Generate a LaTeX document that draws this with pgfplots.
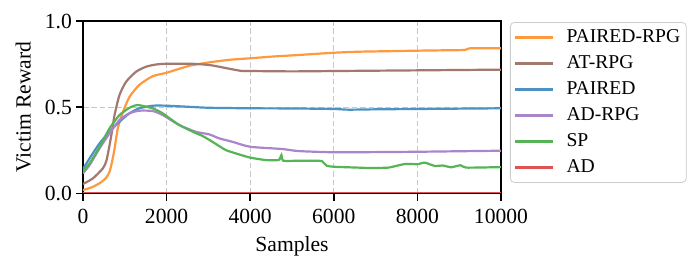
\documentclass[border=0pt]{standalone}
\usepackage{fontspec}
\setmainfont{Liberation Serif}
\usepackage{pgfplots}
\pgfplotsset{compat=1.18}
\definecolor{cOr}{HTML}{FF993E}
\definecolor{cBr}{HTML}{A3786F}
\definecolor{cBl}{HTML}{4C92C3}
\definecolor{cPu}{HTML}{A985CA}
\definecolor{cGr}{HTML}{56B356}
\definecolor{cRd}{HTML}{DE5253}
\definecolor{cGrid}{HTML}{C8C8C8}
\newcommand{\lab}{\fontsize{10.8pt}{13pt}\selectfont}
\newcommand{\leg}{\fontsize{9.8pt}{11pt}\selectfont}
\begin{document}
\begin{tikzpicture}
\path[use as bounding box] (0,0) rectangle (349pt,135pt);
\begin{axis}[
  at={(41.5pt,38.25pt)}, anchor=south west,
  scale only axis, width=209pt, height=86.25pt,
  xmin=0, xmax=10000, ymin=0, ymax=1,
  xtick={0,2000,4000,6000,8000,10000},
  ytick={0,0.5,1},
  /pgf/number format/assume math mode=true,
  xticklabel style={font=\lab, yshift=-1pt, /pgf/number format/set thousands separator={}},
  yticklabel style={font=\lab, xshift=1.5pt, /pgf/number format/fixed, /pgf/number format/fixed zerofill, /pgf/number format/precision=1},
  scaled x ticks=false,
  tick align=outside, major tick length=3.5pt,
  tick style={black, line width=0.8pt},
  xtick pos=bottom, ytick pos=left,
  axis line style={black, line width=0.8pt},
  grid=major,
  major grid style={cGrid, dash pattern=on 2.8pt off 1.4pt, line width=0.6pt},
  xlabel={Samples}, ylabel={Victim Reward},
  xlabel style={font=\lab, at={(axis description cs:0.5,-0.336)}, anchor=base},
  ylabel style={font=\lab, at={(axis description cs:-0.1426,0.5)}, anchor=center},
  every axis plot/.append style={line width=1.1pt, no markers},
  legend cell align=left,
  legend image code/.code={\draw[#1] (0pt,0pt) -- (19pt,0pt);},
  legend style={at={(1.0215,0.9942)}, anchor=north west, draw=black!20, rounded corners=2pt,
    inner sep=2pt, font=\leg, row sep=2pt, /tikz/column sep=5pt,
    nodes={inner sep=1pt, text height=7pt, text depth=2pt}},
]
\addplot[cOr, smooth, tension=0.4] coordinates {
(0,0.02) (200,0.035) (400,0.06) (550,0.09) (636,0.126) (700,0.19) (755,0.26) (835,0.38) (952,0.47) (1112,0.56) (1350,0.63) (1667,0.68) (2000,0.70) (2540,0.74) (3017,0.76) (3500,0.775) (4000,0.784) (4600,0.795) (5159,0.803) (6000,0.816) (6600,0.822) (7300,0.825) (8000,0.828) (8600,0.830) (9128,0.832) (9280,0.842) (10000,0.842)};
\addlegendentry{PAIRED-RPG}
\addplot[cBr, smooth, tension=0.4] coordinates {
(0,0.055) (238,0.088) (476,0.146) (560,0.19) (635,0.28) (700,0.37) (755,0.455) (873,0.571) (1032,0.648) (1270,0.706) (1508,0.735) (1750,0.748) (2000,0.752) (2619,0.752) (3017,0.745) (3254,0.735) (3571,0.72) (3810,0.71) (4000,0.71) (5000,0.708) (6000,0.71) (7000,0.712) (8000,0.714) (9000,0.716) (10000,0.718)};
\addlegendentry{AT-RPG}
\addplot[cBl, smooth, tension=0.4] coordinates {
(0,0.142) (159,0.204) (397,0.291) (635,0.358) (873,0.416) (1111,0.465) (1349,0.494) (1667,0.509) (2000,0.509) (2500,0.503) (3017,0.497) (4000,0.494) (5000,0.493) (6000,0.49) (6350,0.486) (7000,0.488) (8000,0.49) (9000,0.492) (10000,0.494)};
\addlegendentry{PAIRED}
\addplot[cPu, smooth, tension=0.4] coordinates {
(0,0.117) (159,0.165) (397,0.262) (635,0.349) (873,0.426) (1111,0.465) (1349,0.48) (1667,0.478) (1905,0.455) (2302,0.397) (2698,0.358) (3017,0.343) (3254,0.32) (3571,0.30) (4000,0.271) (4762,0.258) (5159,0.246) (6000,0.239) (7000,0.24) (8000,0.242) (9000,0.245) (10000,0.248)};
\addlegendentry{AD-RPG}
\addplot[cGr, smooth, tension=0.3] coordinates {
(0,0.13) (159,0.175) (397,0.27) (635,0.378) (873,0.455) (1111,0.497) (1310,0.513) (1667,0.494) (1905,0.465) (2302,0.397) (2698,0.35) (2850,0.335) (3095,0.30) (3413,0.252) (3730,0.227) (4000,0.208) (4365,0.194) (4683,0.194) (4746,0.223) (4790,0.19) (5159,0.19) (5635,0.19) (5714,0.188) (5833,0.161) (6000,0.155) (6588,0.15) (6826,0.148) (7302,0.15) (7698,0.171) (8000,0.17) (8175,0.179) (8413,0.16) (8611,0.162) (8810,0.152) (9032,0.164) (9167,0.15) (10000,0.153)};
\addlegendentry{SP}
\addplot[cRd, line width=0.6pt, forget plot] coordinates {(0,0.008) (10000,0.008)};
\addlegendimage{cRd, line width=1.1pt}
\addlegendentry{AD}
\end{axis}
\end{tikzpicture}
\end{document}
